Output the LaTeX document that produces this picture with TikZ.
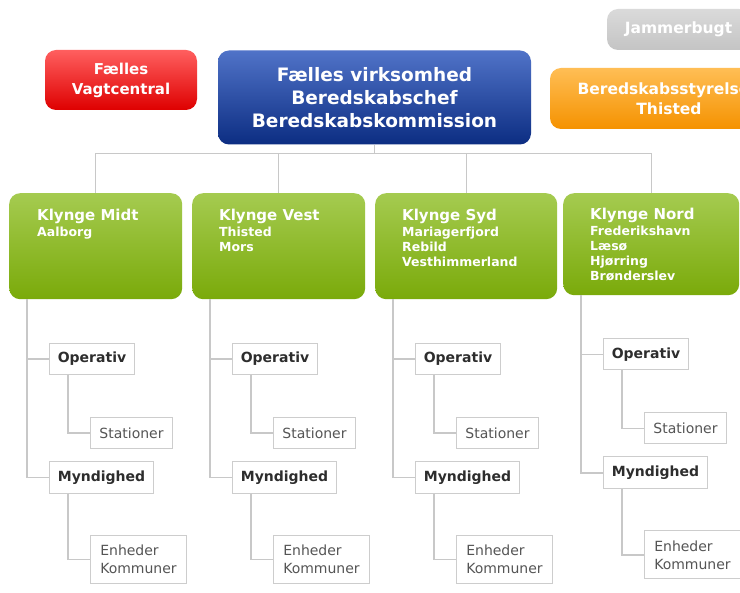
\documentclass[tikz,border=0pt]{standalone}
\usepackage{fontspec}
\setmainfont{DejaVu Sans}
\definecolor{connc}{RGB}{200,200,200}
\definecolor{boxline}{RGB}{205,205,205}
\definecolor{darktxt}{RGB}{45,45,45}
\definecolor{graytxt}{RGB}{85,85,85}
\definecolor{gtop}{RGB}{165,203,80}
\definecolor{gmid}{RGB}{132,178,24}
\definecolor{gbot}{RGB}{122,170,10}
\definecolor{btop}{RGB}{80,115,200}
\definecolor{bmid}{RGB}{25,68,165}
\definecolor{bbot}{RGB}{12,45,130}
\definecolor{rtop}{RGB}{255,95,95}
\definecolor{rmid}{RGB}{240,20,20}
\definecolor{rbot}{RGB}{222,0,0}
\definecolor{otop}{RGB}{255,190,85}
\definecolor{omid}{RGB}{255,160,30}
\definecolor{obot}{RGB}{245,146,0}
\definecolor{ytop}{RGB}{218,218,218}
\definecolor{ybot}{RGB}{196,196,196}
\begin{document}
\begin{tikzpicture}[x=1pt,y=-1pt,
  conn/.style={draw=connc, line width=1.4pt},
  rbox/.style={rounded corners=11pt, inner sep=0pt, text=white, align=center},
  gbox/.style={rbox, top color=gtop, middle color=gmid, bottom color=gbot},
  gtitle/.style={inner sep=0pt, text=white, font=\fontsize{15}{17}\selectfont\bfseries},
  gsub/.style={inner sep=0pt, text=white, align=left, font=\fontsize{12.5}{15}\selectfont\bfseries},
  sbox/.style={draw=boxline, line width=1pt, fill=white, inner sep=0pt, minimum height=31pt, text=darktxt, font=\fontsize{14}{16}\selectfont\bfseries},
  lbox/.style={draw=boxline, line width=1pt, fill=white, inner sep=0pt, text=graytxt, align=left, font=\fontsize{14}{18}\selectfont}
]
\useasboundingbox (0,0) rectangle (740,593);
\clip (0,0) rectangle (740,593);
\fill[white] (0,0) rectangle (740,593);

% top row
\node[rbox, top color=ytop, bottom color=ybot, minimum width=143pt, minimum height=41pt,
      font=\fontsize{15.5}{18}\selectfont\bfseries] (jam) at (678.5,29.5) {Jammerbugt};
\node[rbox, top color=rtop, middle color=rmid, bottom color=rbot, minimum width=152pt, minimum height=60pt,
      font=\fontsize{15}{20}\selectfont\bfseries] (vagt) at (121,80) {Fælles\\Vagtcentral};
\node[rbox, top color=btop, middle color=bmid, bottom color=bbot, minimum width=313pt, minimum height=94pt,
      font=\fontsize{18.5}{23}\selectfont\bfseries] (chef) at (374.5,97.5) {Fælles virksomhed\\Beredskabschef\\Beredskabskommission};
\node[rbox, top color=otop, middle color=omid, bottom color=obot, minimum width=238pt, minimum height=61pt,
      font=\fontsize{15.5}{20}\selectfont\bfseries] (bst) at (669,98.5) {Beredskabsstyrelsen\\Thisted};

% clusters
\node[gbox, minimum width=173pt, minimum height=106pt, anchor=north west] (kM) at (9,193) {};
\node[gbox, minimum width=173pt, minimum height=106pt, anchor=north west] (kV) at (192,193) {};
\node[gbox, minimum width=182pt, minimum height=106pt, anchor=north west] (kS) at (375,193) {};
\node[gbox, minimum width=176pt, minimum height=102pt, anchor=north west] (kN) at (563,193) {};

\node[gtitle, anchor=base west] (tM) at (37,220.5) {Klynge Midt};
\node[gtitle, anchor=base west] (tV) at (219,220.5) {Klynge Vest};
\node[gtitle, anchor=base west] (tS) at (402,220.5) {Klynge Syd};
\node[gtitle, anchor=base west] (tN) at (590,219.5) {Klynge Nord};

\node[gsub, anchor=north west] (sM) at (37,227) {Aalborg};
\node[gsub, anchor=north west] (sV) at (219,227) {Thisted\\Mors};
\node[gsub, anchor=north west] (sS) at (402,227) {Mariagerfjord\\Rebild\\Vesthimmerland};
\node[gsub, anchor=north west] (sN) at (590,226) {Frederikshavn\\Læsø\\Hjørring\\Brønderslev};

% bus from top box to clusters
\coordinate (bus) at (374.5,153.5);
\draw[conn] (chef.south) -- (bus);
\draw[conn] (kM.north) -- (kM.north |- bus) -- (kN.north |- bus) -- (kN.north);
\draw[conn] (kV.north) -- (kV.north |- bus);
\draw[conn] (kS.north) -- (kS.north |- bus);

% sub trees
\foreach \n/\L/\d in {M/9/0, V/192/0, S/375/0, N/563/4.5} {
  \node[sbox, minimum width=85pt, anchor=north west] (op\n) at (\L+40, 343-\d) {Operativ};
  \node[lbox, minimum width=82pt, minimum height=31pt, anchor=north west, font=\fontsize{14}{16}\selectfont] (st\n) at (\L+81, 417-\d) {Stationer};
  \node[sbox, minimum width=104pt, minimum height=32pt, anchor=north west] (my\n) at (\L+40, 461-\d) {Myndighed};
  \node[lbox, minimum width=96pt, minimum height=48pt, anchor=north west] (en\n) at (\L+81, 535-\d) {Enheder\\Kommuner};
  \coordinate (a\n) at (\L+18, 0);
  \coordinate (b\n) at (\L+59, 0);
  \draw[conn] (k\n.south -| a\n) |- (my\n.west);
  \draw[conn] (a\n |- op\n.west) -- (op\n.west);
  \draw[conn] (op\n.south -| b\n) |- (st\n.west);
  \draw[conn] (my\n.south -| b\n) |- (en\n.west);
}
\end{tikzpicture}
\end{document}
